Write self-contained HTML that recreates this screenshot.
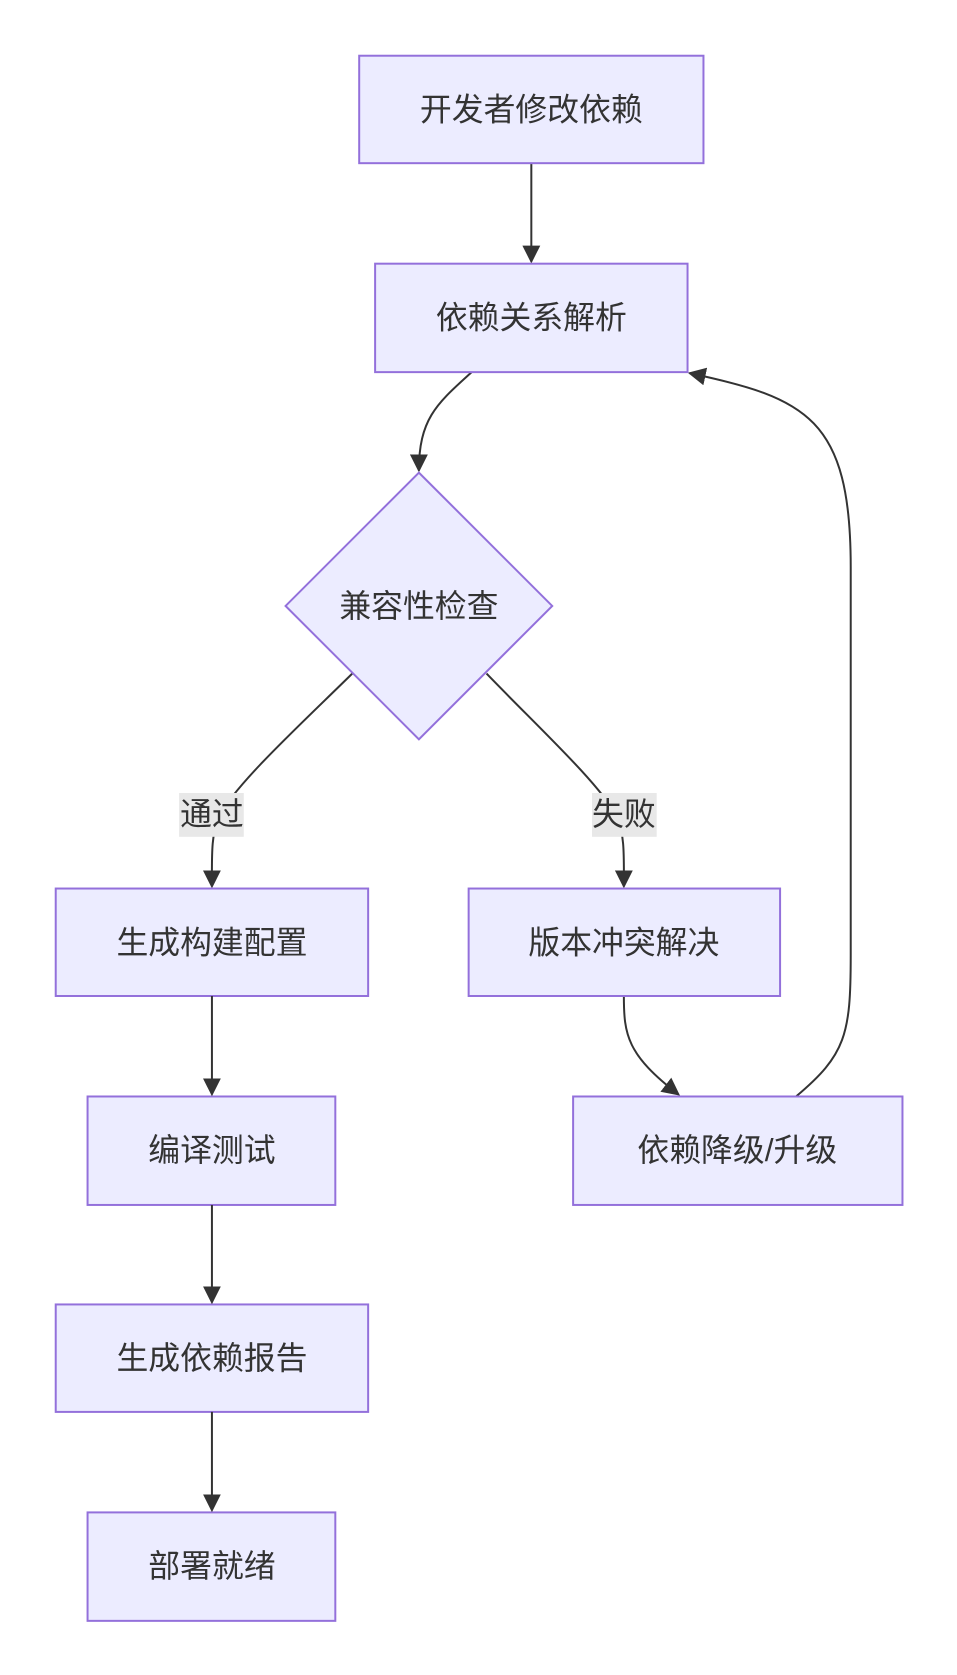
<!DOCTYPE html>
<html><head><meta charset="utf-8"><style>
html,body{margin:0;padding:0;background:#fff;}
svg{display:block;}
text{font-family:"Liberation Sans","Noto Sans CJK SC",sans-serif;font-size:32px;fill:#333;text-anchor:middle;dominant-baseline:central;}
.n{fill:#ECECFF;stroke:#9370DB;stroke-width:2;}
.e{fill:none;stroke:#333;stroke-width:2;}
</style></head><body>
<svg width="957" height="1675" viewBox="0 0 957 1675" xmlns="http://www.w3.org/2000/svg">
<defs><marker id="a" viewBox="0 0 10 10" refX="9" refY="5" markerWidth="9" markerHeight="9" orient="auto"><path d="M0,0 L10,5 L0,10 z" fill="#333"/></marker></defs>
<g transform="scale(0.995)">
<path class="e" d="M534,164 L534,263" marker-end="url(#a)"/>
<path class="e" d="M474,374 C440,405 421,420 421,473" marker-end="url(#a)"/>
<path class="e" d="M354,677 C300,730 240,785 220,820 C212,840 213,860 213,891" marker-end="url(#a)"/>
<path class="e" d="M489,677 C540,730 600,785 620,820 C628,840 627,860 627,891" marker-end="url(#a)"/>
<path class="e" d="M627,1001 C627,1040 630,1060 682,1100" marker-end="url(#a)"/>
<path class="e" d="M800,1102 C850,1060 855,1040 855,960 L855,570 C855,420 810,400 693,375" marker-end="url(#a)"/>
<rect class="n" x="361" y="56" width="346" height="108"/><text x="534" y="110">开发者修改依赖</text>
<rect class="n" x="377" y="265" width="314" height="109"/><text x="534" y="319">依赖关系解析</text>
<polygon class="n" points="421,475 555,609 421,743 287,609"/><text x="421" y="609">兼容性检查</text>
<rect x="180" y="797" width="65" height="44" fill="#e8e8e8"/><text x="213" y="818">通过</text>
<rect x="595" y="797" width="65" height="44" fill="#e8e8e8"/><text x="627" y="818">失败</text>
<rect class="n" x="56" y="893" width="314" height="108"/><text x="213" y="947">生成构建配置</text>
<rect class="n" x="471" y="893" width="313" height="108"/><text x="627" y="947">版本冲突解决</text>
<rect class="n" x="88" y="1102" width="249" height="109"/><text x="213" y="1156">编译测试</text>
<rect class="n" x="576" y="1102" width="331" height="109"/><text x="741" y="1156">依赖降级/升级</text>
<rect class="n" x="56" y="1311" width="314" height="108"/><text x="213" y="1365">生成依赖报告</text>
<rect class="n" x="88" y="1520" width="249" height="109"/><text x="213" y="1574">部署就绪</text>
<path class="e" d="M213,1001 L213,1100" marker-end="url(#a)"/>
<path class="e" d="M213,1211 L213,1309" marker-end="url(#a)"/>
<path class="e" d="M213,1419 L213,1518" marker-end="url(#a)"/>
</g>
</svg>
</body></html>
